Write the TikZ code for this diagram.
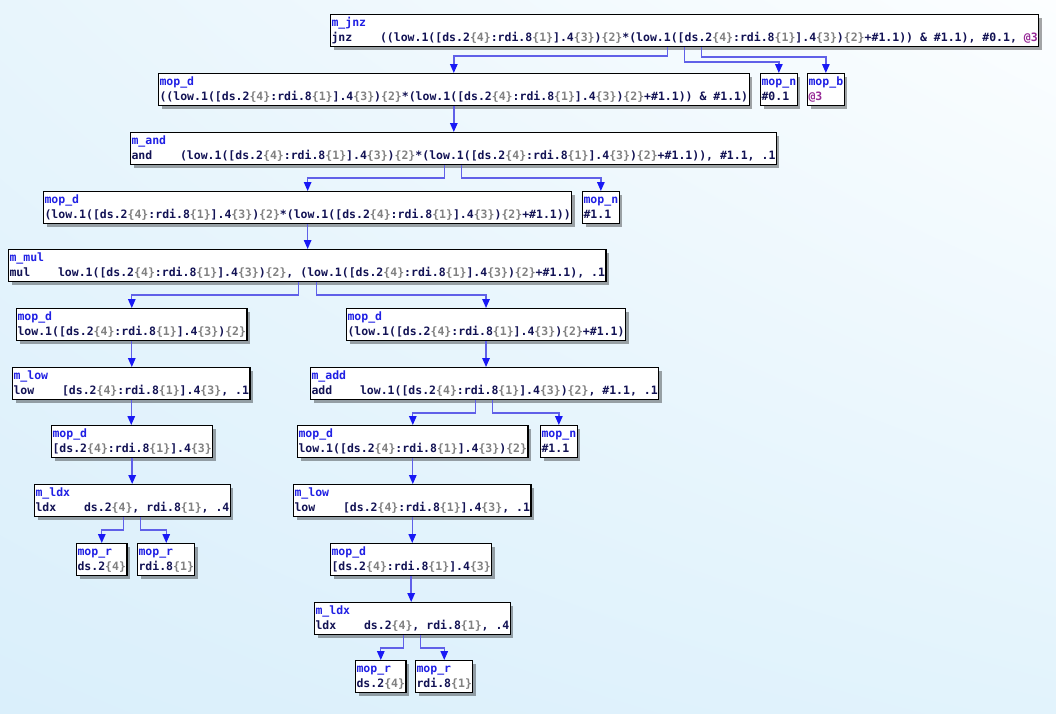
\documentclass[tikz,border=0pt]{standalone}
\usepackage{fontspec}
\setmonofont{DejaVu Sans Mono}
\usetikzlibrary{arrows.meta,shadows,shadings}
\definecolor{hdcol}{RGB}{32,32,228}
\definecolor{bodycol}{RGB}{18,18,84}
\definecolor{szcol}{RGB}{128,128,128}
\definecolor{blkcol}{RGB}{150,40,150}
\definecolor{edgecol}{RGB}{96,96,232}
\definecolor{tipcol}{RGB}{25,25,245}
\definecolor{bgul}{RGB}{232,245,252}
\definecolor{bgur}{RGB}{252,254,255}
\definecolor{bgll}{RGB}{218,239,251}
\definecolor{bglr}{RGB}{226,243,252}
\newcommand\sz[1]{\textcolor{szcol}{\{#1\}}}
\newcommand\hd[1]{\strut\textcolor{hdcol}{#1}}
\newcommand\opc[1]{#1\ \ \ \ }
\newcommand\memop{[ds.2\sz{4}:rdi.8\sz{1}].4\sz{3}}
\newcommand\lowop{low.1(\memop)\sz{2}}

\begin{document}
\begin{tikzpicture}[x=1pt,y=-1pt,
    mop/.style={draw=black,fill=white,line width=1.1pt,anchor=north west,align=left,
        inner xsep=1pt,inner ysep=1pt,text=bodycol,
        font=\ttfamily\bfseries\fontsize{11.5}{15}\selectfont,
        drop shadow={shadow xshift=3pt,shadow yshift=-3pt,fill=black,opacity=0.35}},
    edge/.style={edgecol,line width=1.4pt,-{Triangle[length=9pt,width=7.5pt,color=tipcol]}}]
    \useasboundingbox (0,0) rectangle (1056,713);
    \shade[upper left=bgul,upper right=bgur,lower left=bgll,lower right=bglr]
        (0,0) rectangle (1056,713);

    \node[mop] (mjnz) at (330,14) {\hd{m\_jnz}\\\strut\opc{jnz}((\lowop*(\lowop+\#1.1)) \& \#1.1), \#0.1, \textcolor{blkcol}{@3}};
    \node[mop] (mopd1) at (158,73) {\hd{mop\_d}\\\strut((\lowop*(\lowop+\#1.1)) \& \#1.1)};
    \node[mop] (mopn1) at (760,73) {\hd{mop\_n}\\\strut\#0.1};
    \node[mop] (mopb) at (807,73) {\hd{mop\_b}\\\strut\textcolor{blkcol}{@3}};
    \node[mop] (mand) at (130,132) {\hd{m\_and}\\\strut\opc{and}(\lowop*(\lowop+\#1.1)), \#1.1, .1};
    \node[mop] (mopd2) at (43,191) {\hd{mop\_d}\\\strut(\lowop*(\lowop+\#1.1))};
    \node[mop] (mopn2) at (582,191) {\hd{mop\_n}\\\strut\#1.1};
    \node[mop] (mmul) at (8,249) {\hd{m\_mul}\\\strut\opc{mul}\lowop, (\lowop+\#1.1), .1};
    \node[mop] (mopd3) at (16,308) {\hd{mop\_d}\\\strut\lowop};
    \node[mop] (mopd4) at (346,308) {\hd{mop\_d}\\\strut(\lowop+\#1.1)};
    \node[mop] (mlow1) at (12,367) {\hd{m\_low}\\\strut\opc{low}\memop, .1};
    \node[mop] (madd) at (310,367) {\hd{m\_add}\\\strut\opc{add}\lowop, \#1.1, .1};
    \node[mop] (mopd5) at (51,425) {\hd{mop\_d}\\\strut\memop};
    \node[mop] (mopd6) at (297,425) {\hd{mop\_d}\\\strut\lowop};
    \node[mop] (mopn3) at (540,425) {\hd{mop\_n}\\\strut\#1.1};
    \node[mop] (mldx1) at (34,484) {\hd{m\_ldx}\\\strut\opc{ldx}ds.2\sz{4}, rdi.8\sz{1}, .4};
    \node[mop] (mlow2) at (293,484) {\hd{m\_low}\\\strut\opc{low}\memop, .1};
    \node[mop] (mopr1) at (76,543) {\hd{mop\_r}\\\strut ds.2\sz{4}};
    \node[mop] (mopr2) at (137,543) {\hd{mop\_r}\\\strut rdi.8\sz{1}};
    \node[mop] (mopd7) at (330,543) {\hd{mop\_d}\\\strut\memop};
    \node[mop] (mldx2) at (314,602) {\hd{m\_ldx}\\\strut\opc{ldx}ds.2\sz{4}, rdi.8\sz{1}, .4};
    \node[mop] (mopr3) at (355,660) {\hd{mop\_r}\\\strut ds.2\sz{4}};
    \node[mop] (mopr4) at (415,660) {\hd{mop\_r}\\\strut rdi.8\sz{1}};

    \draw[edge] ([xshift=-17pt]mjnz.south) -- ++(0,9) -| (mopd1.north);
    \draw[edge] (mjnz.south) -- ++(0,15) -| (mopn1.north);
    \draw[edge] ([xshift=17pt]mjnz.south) -- ++(0,10) -| (mopb.north);
    \draw[edge] (mopd1.south) -- (mopd1.south |- mand.north);
    \draw[edge] ([xshift=-9pt]mand.south) -- ++(0,13) -| (mopd2.north);
    \draw[edge] ([xshift=8pt]mand.south) -- ++(0,13) -| (mopn2.north);
    \draw[edge] (mopd2.south) -- (mopd2.south |- mmul.north);
    \draw[edge] ([xshift=-9pt]mmul.south) -- ++(0,13) -| (mopd3.north);
    \draw[edge] ([xshift=9pt]mmul.south) -- ++(0,13) -| (mopd4.north);
    \draw[edge] (mopd3.south) -- (mopd3.south |- mlow1.north);
    \draw[edge] (mlow1.south) -- (mlow1.south |- mopd5.north);
    \draw[edge] (mopd5.south) -- (mopd5.south |- mldx1.north);
    \draw[edge] ([xshift=-9pt]mldx1.south) -- ++(0,13) -| (mopr1.north);
    \draw[edge] ([xshift=8pt]mldx1.south) -- ++(0,13) -| (mopr2.north);
    \draw[edge] (mopd4.south) -- (mopd4.south |- madd.north);
    \draw[edge] ([xshift=-9pt]madd.south) -- ++(0,13) -| (mopd6.north);
    \draw[edge] ([xshift=8pt]madd.south) -- ++(0,13) -| (mopn3.north);
    \draw[edge] (mopd6.south) -- (mopd6.south |- mlow2.north);
    \draw[edge] (mlow2.south) -- (mlow2.south |- mopd7.north);
    \draw[edge] (mopd7.south) -- (mopd7.south |- mldx2.north);
    \draw[edge] ([xshift=-9pt]mldx2.south) -- ++(0,13) -| (mopr3.north);
    \draw[edge] ([xshift=8pt]mldx2.south) -- ++(0,13) -| (mopr4.north);
\end{tikzpicture}
\end{document}
